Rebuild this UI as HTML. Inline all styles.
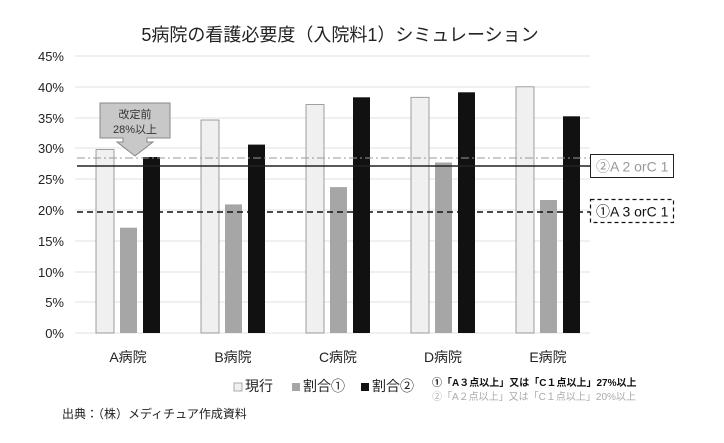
<!DOCTYPE html><html><head><meta charset="utf-8"><style>body{margin:0;background:#fff}svg{display:block;font-family:"Liberation Sans","Noto Sans CJK JP",sans-serif}</style></head><body>
<svg width="724" height="443" viewBox="0 0 724 443">
<text x="340" y="41" font-size="18" text-anchor="middle" fill="#222">5病院の看護必要度（入院料1）シミュレーション</text>
<g stroke="#e2e2e2" stroke-width="1">
<line x1="75" x2="590" y1="56" y2="56"/><line x1="75" x2="590" y1="87" y2="87"/><line x1="75" x2="590" y1="118" y2="118"/><line x1="75" x2="590" y1="148" y2="148"/><line x1="75" x2="590" y1="179" y2="179"/><line x1="75" x2="590" y1="210" y2="210"/><line x1="75" x2="590" y1="241" y2="241"/><line x1="75" x2="590" y1="272" y2="272"/><line x1="75" x2="590" y1="302" y2="302"/><line x1="75" x2="590" y1="333" y2="333"/>
</g>
<g font-size="13" fill="#222" text-anchor="end">
<text x="64" y="61">45%</text><text x="64" y="92">40%</text><text x="64" y="123">35%</text><text x="64" y="153">30%</text><text x="64" y="184">25%</text><text x="64" y="215">20%</text><text x="64" y="246">15%</text><text x="64" y="277">10%</text><text x="64" y="307">5%</text><text x="64" y="338">0%</text>
</g>
<g stroke="#888" stroke-width="0.8">
<rect x="96" y="149.6" width="18" height="183.4" fill="#f0f0f0"/>
<rect x="201" y="120" width="18" height="213" fill="#f0f0f0"/>
<rect x="306" y="104.6" width="18" height="228.4" fill="#f0f0f0"/>
<rect x="411" y="97.3" width="18" height="235.7" fill="#f0f0f0"/>
<rect x="516" y="86.8" width="18" height="246.2" fill="#f0f0f0"/>
</g>
<g fill="#a6a6a6">
<rect x="120" y="227.7" width="17" height="105.3"/>
<rect x="225" y="204.4" width="17" height="128.6"/>
<rect x="330" y="187.1" width="17" height="145.9"/>
<rect x="435" y="162.5" width="17" height="170.5"/>
<rect x="540" y="200" width="17" height="133"/>
</g>
<g fill="#111">
<rect x="143" y="157" width="17" height="176"/>
<rect x="248" y="144.6" width="17" height="188.4"/>
<rect x="353" y="97.3" width="17" height="235.7"/>
<rect x="458" y="92.3" width="17" height="240.7"/>
<rect x="563" y="116.3" width="17" height="216.7"/>
</g>
<line x1="77" x2="590" y1="158" y2="158" stroke="#999" stroke-dasharray="8,3,2,3"/>
<line x1="77" x2="590" y1="166" y2="166" stroke="#222" stroke-width="1.4"/>
<line x1="77" x2="590" y1="212" y2="212" stroke="#111" stroke-width="1.5" stroke-dasharray="6,4"/>
<rect x="590.5" y="154.5" width="83" height="23" fill="#fff" stroke="#222" stroke-width="1"/>
<text x="596" y="171.5" font-size="14" fill="#999">②A 2 orC 1</text>
<rect x="590.5" y="199.5" width="83" height="23" fill="#fff" stroke="#111" stroke-width="1.2" stroke-dasharray="4,3"/>
<text x="596" y="216.5" font-size="14" fill="#111">①A 3 orC 1</text>
<path d="M100,103 H170 V138 H147 V142 H153 L135,156 L117,142 H123 V138 H100 Z" fill="#c8c8c8" stroke="#888"/>
<text x="135" y="118" font-size="11" text-anchor="middle" fill="#333">改定前</text>
<text x="135" y="133" font-size="11" text-anchor="middle" fill="#333">28%以上</text>
<g font-size="14" fill="#222" text-anchor="middle">
<text x="128" y="362">A病院</text><text x="233" y="362">B病院</text><text x="338" y="362">C病院</text><text x="443" y="362">D病院</text><text x="548" y="362">E病院</text>
</g>
<rect x="234" y="383" width="8" height="8" fill="#f0f0f0" stroke="#999" stroke-width="0.8"/>
<text x="245" y="391" font-size="14" fill="#222">現行</text>
<rect x="292" y="383" width="8" height="8" fill="#a6a6a6"/>
<text x="303" y="391" font-size="14" fill="#222">割合①</text>
<rect x="361" y="383" width="8" height="8" fill="#111"/>
<text x="372" y="391" font-size="14" fill="#222">割合②</text>
<text x="432" y="386" font-size="10" fill="#111" font-weight="bold">①「A３点以上」又は「C１点以上」27%以上</text>
<text x="432" y="400" font-size="10" fill="#aaa">②「A２点以上」又は「C１点以上」20%以上</text>
<text x="62" y="418" font-size="12" fill="#222">出典：（株）メディチュア作成資料</text>
</svg>
</body></html>
